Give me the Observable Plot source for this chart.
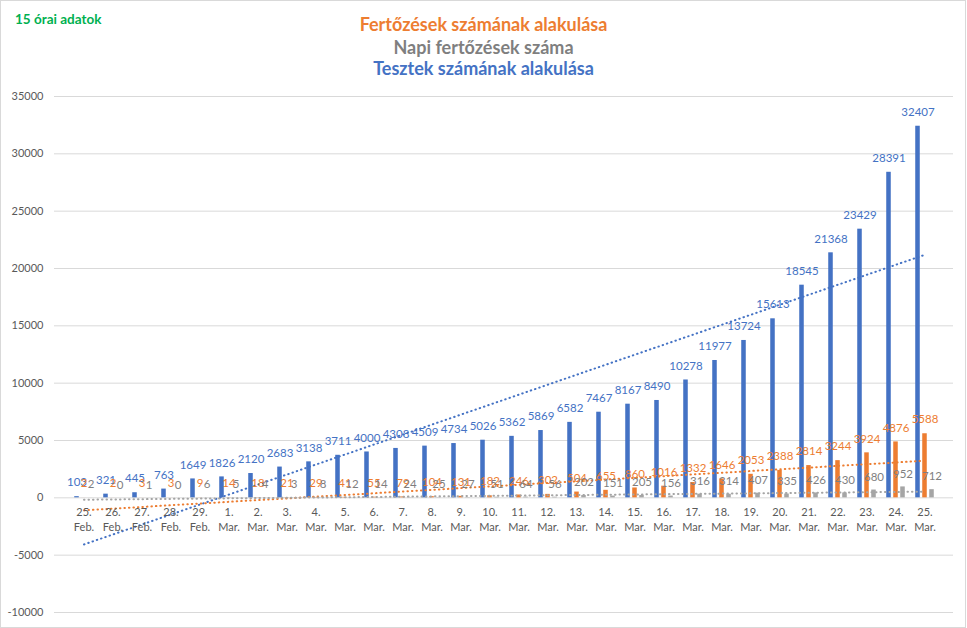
<!DOCTYPE html>
<html>
<head>
<meta charset="utf-8">
<script src="https://cdn.jsdelivr.net/npm/d3@7"></script>
<script src="https://cdn.jsdelivr.net/npm/@observablehq/plot@0.6"></script>
<style>
  html, body { margin: 0; padding: 0; background: #fff; }
  #wrap { position: relative; width: 967px; height: 628px; font-family: Lato, "Liberation Sans", sans-serif; }
  #border { position: absolute; left: 0; top: 0; width: 966px; height: 628px; box-sizing: border-box; border: 1px solid #D9D9D9; pointer-events: none; }
  #note { position: absolute; left: 15px; top: 11px; color: #00B050; font-weight: bold; font-size: 13.5px; }
  .title { position: absolute; left: 0; width: 967px; text-align: center; font-weight: bold; font-size: 18px; line-height: 22px; }
  #chart { position: absolute; left: 0; top: 0; }
</style>
</head>
<body>
<div id="wrap">
  <div id="chart"></div>
  <div id="note">15 órai adatok</div>
  <div class="title" style="top:13px;color:#ED7D31">Fertőzések számának alakulása</div>
  <div class="title" style="top:36px;color:#7F7F7F">Napi fertőzések száma</div>
  <div class="title" style="top:57px;color:#4472C4">Tesztek számának alakulása</div>
  <div id="border"></div>
</div>
<script>
const days = ["25.","26.","27.","28.","29.","1.","2.","3.","4.","5.","6.","7.","8.","9.","10.","11.","12.","13.","14.","15.","16.","17.","18.","19.","20.","21.","22.","23.","24.","25."];
const months = ["Feb.","Feb.","Feb.","Feb.","Feb.","Mar.","Mar.","Mar.","Mar.","Mar.","Mar.","Mar.","Mar.","Mar.","Mar.","Mar.","Mar.","Mar.","Mar.","Mar.","Mar.","Mar.","Mar.","Mar.","Mar.","Mar.","Mar.","Mar.","Mar.","Mar."];
const tests = [103,321,445,763,1649,1826,2120,2683,3138,3711,4000,4308,4509,4734,5026,5362,5869,6582,7467,8167,8490,10278,11977,13724,15613,18545,21368,23429,28391,32407];
const infections = [2,2,3,3,9,14,18,21,29,41,55,79,104,131,182,246,302,504,655,860,1016,1332,1646,2053,2388,2814,3244,3924,4876,5588];
const daily = [2,0,1,0,6,5,4,3,8,12,14,24,25,27,51,64,56,202,151,205,156,316,314,407,335,426,430,680,952,712];
const yTicks = [-10000,-5000,0,5000,10000,15000,20000,25000,30000,35000];

const BLUE = "#4472C4", ORANGE = "#ED7D31", GRAY = "#A5A5A5", GRAYTXT = "#7F7F7F";

const rows = days.map((d, i) => ({
  cat: d + " " + months[i], day: d, month: months[i], i: i + 1,
  tests: tests[i], infections: infections[i], daily: daily[i]
}));
const cats = rows.map(r => r.cat);

function fit(key) {
  const mx = d3.mean(rows, r => r.i), my = d3.mean(rows, r => r[key]);
  const b = d3.sum(rows, r => (r.i - mx) * (r[key] - my)) / d3.sum(rows, r => (r.i - mx) ** 2);
  const a = my - b * mx;
  return rows.map(r => ({cat: r.cat, v: a + b * r.i}));
}

const bw = 5.5, gap = 1.5, band = 899 / 30;
const side = (band - 3 * bw - 2 * gap) / 2;

const chart = Plot.plot({
  width: 967, height: 628,
  marginLeft: 54, marginRight: 14, marginTop: 96, marginBottom: 16,
  style: {fontFamily: "Lato, 'Liberation Sans', sans-serif", background: "transparent"},
  x: {type: "band", domain: cats, padding: 0, axis: null},
  y: {domain: [-10000, 35000], axis: null},
  marks: [
    Plot.gridY(yTicks, {stroke: "#D9D9D9", strokeOpacity: 1}),
    Plot.axisY(yTicks, {tickSize: 0, tickPadding: 11, fontSize: 11, color: "#595959", tickFormat: d => String(d)}),
    Plot.barY(rows, {x: "cat", y: "tests", fill: BLUE, insetLeft: side, insetRight: band - side - bw}),
    Plot.barY(rows, {x: "cat", y: "infections", fill: ORANGE, insetLeft: side + bw + gap, insetRight: side + bw + gap}),
    Plot.barY(rows, {x: "cat", y: "daily", fill: GRAY, insetLeft: band - side - bw, insetRight: side}),
    Plot.line(fit("tests"), {x: "cat", y: "v", stroke: BLUE, strokeWidth: 2, strokeDasharray: "0.5,4", strokeLinecap: "round"}),
    Plot.line(fit("infections"), {x: "cat", y: "v", stroke: ORANGE, strokeWidth: 2, strokeDasharray: "0.5,4", strokeLinecap: "round"}),
    Plot.line(fit("daily"), {x: "cat", y: "v", stroke: GRAY, strokeWidth: 2, strokeDasharray: "0.5,4", strokeLinecap: "round"}),
    Plot.text(rows, {x: "cat", y: "tests", text: d => String(d.tests), dx: -(bw + gap), dy: -14, fill: BLUE, fontSize: 11.5}),
    Plot.text(rows, {x: "cat", y: "infections", text: d => String(d.infections), dx: 0, dy: -14, fill: ORANGE, fontSize: 11.5}),
    Plot.text(rows, {x: "cat", y: "daily", text: d => String(d.daily), dx: bw + gap, dy: -13, fill: GRAYTXT, fontSize: 11.5}),
    Plot.text(rows, {x: "cat", y: () => 0, text: d => d.day + "\n" + d.month, lineAnchor: "top", dy: 8, lineHeight: 1.36, fontSize: 11, fill: "#595959"})
  ]
});
document.getElementById("chart").appendChild(chart);
</script>
</body>
</html>
